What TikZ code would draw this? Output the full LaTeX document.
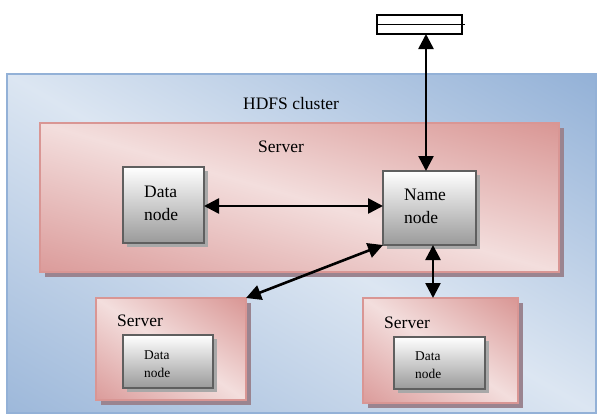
\documentclass[tikz,border=0pt]{standalone}
\usepackage{fontspec}
\setmainfont{Liberation Serif}
\usetikzlibrary{arrows.meta,shadows,calc}
\definecolor{clusterdark}{HTML}{93B1D7}
\definecolor{clusterlow}{HTML}{9DB8DA}
\definecolor{clusterlight}{HTML}{DCE6F2}
\definecolor{serverdark}{HTML}{D99694}
\definecolor{serverlow}{HTML}{DB9B9A}
\definecolor{serverlight}{HTML}{F3DEDD}
\definecolor{servershadow}{HTML}{9A8490}
\definecolor{boxedge}{HTML}{5F5F5F}
\definecolor{boxshade}{HTML}{9A9A9A}
\definecolor{boxshadow}{HTML}{A8A8A8}
% diagonal three-colour fill of a rectangular node:
% #1 node, #2 width, #3 height, #4 corner colour (top right), #5 centre colour,
% #6 corner colour (bottom left), #7 border colour, #8 border width
\newcommand\diagfill[8]{%
  \pgfmathsetmacro\dgang{atan(#3/#2)}%
  \pgfmathsetmacro\dgd{(#2/100)*(#3/100)*100/sqrt((#2/100)*(#2/100)+(#3/100)*(#3/100))}%
  \begin{scope}
    \clip (#1.south west) rectangle (#1.north east);
    \shade[transform canvas={rotate around={-\dgang:(#1.center)}},
      top color=#4, bottom color=#6, middle color=#5]
      ($(#1.center)+(-400,-\dgd)$) rectangle ($(#1.center)+(400,\dgd)$);
  \end{scope}
  \draw[draw=#7, line width=#8] (#1.south west) rectangle (#1.north east);
}
\begin{document}
\begin{tikzpicture}[x=1pt,y=-1pt,
  cluster/.style={inner sep=0pt, outer sep=0pt},
  serverbox/.style={fill=serverlight, inner sep=0pt, outer sep=0pt,
    drop shadow={shadow xshift=5pt, shadow yshift=-5pt, fill=servershadow, opacity=1}},
  dnbox/.style={draw=boxedge, line width=2pt, inner sep=0pt, outer sep=0pt,
    top color=white, bottom color=boxshade,
    drop shadow={shadow xshift=4pt, shadow yshift=-4pt, fill=boxshadow, opacity=1}},
  storebox/.style={draw=black, line width=1.4pt, fill=white, inner sep=0pt, outer sep=0pt},
  bigtext/.style={font=\fontsize{17.5}{23}\selectfont, inner sep=0pt, anchor=base west, align=left},
  smalltext/.style={font=\fontsize{13.4}{18}\selectfont, inner sep=0pt, anchor=base west, align=left},
  link/.style={line width=2.6pt, {Triangle[length=15pt,width=15pt]}-{Triangle[length=15pt,width=15pt]}}
]
\useasboundingbox (0,0) rectangle (597,415);

% cluster frame
\node[cluster, minimum width=589pt, minimum height=339pt] (cluster) at (301.5,243.5) {};
\diagfill{cluster}{589}{339}{clusterdark}{clusterlight}{clusterlow}{clusterdark}{1.5pt}
\node[bigtext] (clustertitle) at (243,109) {HDFS cluster};

% storage symbol above the cluster
\node[storebox, minimum width=85pt, minimum height=19pt] (store) at (419.5,24.5) {};
\draw[line width=1.4pt] (store.west) -- ([xshift=3pt]store.east);

% main server with data node and name node
\node[serverbox, minimum width=519pt, minimum height=149pt] (mainserver) at (299.5,197.5) {};
\diagfill{mainserver}{519}{149}{serverdark}{serverlight}{serverlow}{serverdark}{1.2pt}
\node[bigtext] (mainservertitle) at (258,152) {Server};
\node[dnbox, minimum width=81pt, minimum height=76pt] (datanode) at (163.5,205) {};
\node[bigtext] (datanodetext) at (144,220) {Data\\node};
\node[dnbox, minimum width=93pt, minimum height=74pt] (namenode) at (429.5,208) {};
\node[bigtext] (namenodetext) at (404,223) {Name\\node};

% lower servers
\node[serverbox, minimum width=150pt, minimum height=102pt] (serverL) at (171,349) {};
\diagfill{serverL}{150}{102}{serverdark}{serverlight}{serverlow}{serverdark}{1.2pt}
\node[bigtext] (serverLtitle) at (117,326) {Server};
\node[dnbox, minimum width=90pt, minimum height=53pt] (dnL) at (168,361.5) {};
\node[smalltext] (dnLtext) at (144,377) {Data\\node};

\node[serverbox, minimum width=155pt, minimum height=105pt] (serverR) at (440.5,350.5) {};
\diagfill{serverR}{155}{105}{serverdark}{serverlight}{serverlow}{serverdark}{1.2pt}
\node[bigtext] (serverRtitle) at (384,328) {Server};
\node[dnbox, minimum width=91pt, minimum height=52pt] (dnR) at (439.5,363) {};
\node[smalltext] (dnRtext) at (415,378) {Data\\node};

% connectors
\draw[link] ([xshift=-3.5pt]namenode.north |- store.south) -- ([xshift=-3.5pt]namenode.north);
\draw[link] ([yshift=-1pt]datanode.east) -- ([yshift=-1pt]datanode.east -| namenode.west);
\draw[link] (namenode.south west) -- (serverL.north east);
\draw[link] ([xshift=3.5pt]namenode.south) -- ([xshift=3.5pt]namenode.south |- serverR.north);
\end{tikzpicture}
\end{document}
